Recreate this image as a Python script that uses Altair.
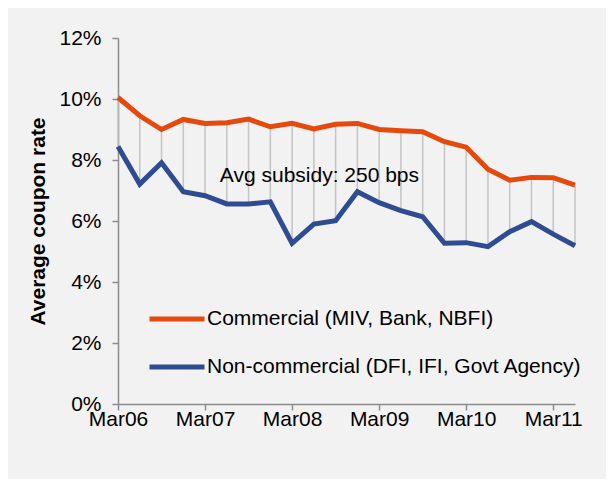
import altair as alt
import pandas as pd

quarters = ["Mar06", "Jun06", "Sep06", "Dec06",
            "Mar07", "Jun07", "Sep07", "Dec07",
            "Mar08", "Jun08", "Sep08", "Dec08",
            "Mar09", "Jun09", "Sep09", "Dec09",
            "Mar10", "Jun10", "Sep10", "Dec10",
            "Mar11", "Jun11"]
commercial = [10.05, 9.45, 9.0, 9.33, 9.2, 9.22, 9.34, 9.09, 9.2, 9.02, 9.17,
              9.2, 9.0, 8.96, 8.93, 8.6, 8.42, 7.7, 7.34, 7.43, 7.42, 7.18]
noncommercial = [8.44, 7.21, 7.91, 6.96, 6.83, 6.56, 6.56, 6.63, 5.27, 5.9, 6.01,
                 6.96, 6.6, 6.34, 6.14, 5.27, 5.29, 5.16, 5.65, 5.98, 5.57, 5.19]
series_names = ["Commercial (MIV, Bank, NBFI)",
                "Non-commercial (DFI, IFI, Govt Agency)"]
series_colors = ["#E5490C", "#2E4C8F"]
year_ticks = ["Mar06", "Mar07", "Mar08", "Mar09", "Mar10", "Mar11"]
y_ticks = [0, 2, 4, 6, 8, 10, 12]
annotation = "Avg subsidy: 250 bps"

wide = pd.DataFrame({"q": quarters, "c": commercial, "n": noncommercial})
long = pd.concat([
    pd.DataFrame({"q": quarters, "v": commercial, "s": series_names[0]}),
    pd.DataFrame({"q": quarters, "v": noncommercial, "s": series_names[1]}),
])
ann = pd.DataFrame({"q": ["Jun07"], "v": [7.48], "t": [annotation]})

FONT = "Liberation Sans"
FS = 21

x_enc = alt.X("q:N", sort=quarters,
              scale=alt.Scale(type="point", padding=0),
              axis=alt.Axis(title=None, values=year_ticks, labelAngle=0,
                            labelFontSize=FS, labelPadding=-2, tickSize=6,
                            labelFont=FONT, labelColor="#000000",
                            domainColor="#8c8c8c", tickColor="#8c8c8c",
                            domainWidth=1.5, tickWidth=1.5, grid=False))
y_scale = alt.Scale(domain=[0, 12], nice=False, zero=True)

rules = alt.Chart(wide).mark_rule(color="#c4c4c4", strokeWidth=1.5).encode(
    x=x_enc,
    y=alt.Y("n:Q", scale=y_scale,
            axis=alt.Axis(title="Average coupon rate", values=y_ticks,
                          labelExpr="datum.value + '%'", labelFontSize=FS,
                          labelFont=FONT, labelColor="#000000",
                          titleFont=FONT, titleFontSize=FS, titleFontWeight="bold",
                          titleColor="#000000", titlePadding=10,
                          domainColor="#8c8c8c", tickColor="#8c8c8c",
                          domainWidth=1.5, tickWidth=1.5, tickSize=6,
                          labelPadding=11, grid=False)),
    y2="c:Q",
)

lines = alt.Chart(long).mark_line(strokeWidth=5).encode(
    x=alt.X("q:N", sort=quarters),
    y=alt.Y("v:Q", scale=y_scale),
    color=alt.Color("s:N",
                    scale=alt.Scale(domain=series_names, range=series_colors),
                    legend=alt.Legend(title=None, orient="none", legendX=29,
                                      legendY=251, symbolType="stroke",
                                      symbolSize=3025, symbolStrokeWidth=5,
                                      labelFontSize=FS, labelFont=FONT,
                                      labelColor="#000000", labelOffset=0,
                                      rowPadding=8, labelLimit=500)),
    detail="s:N",
)

text = alt.Chart(ann).mark_text(align="left", baseline="middle", dx=-7,
                                fontSize=FS, font=FONT, color="#000000").encode(
    x=alt.X("q:N", sort=quarters),
    y=alt.Y("v:Q", scale=y_scale),
    text="t:N",
)

chart = alt.layer(rules, lines, text).properties(
    width=457, height=366,
    background="#f2f2f2",
    padding={"left": 110, "top": 30, "right": 31, "bottom": 75},
    autosize=alt.AutoSizeParams(type="none"),
).configure_view(stroke=None)

chart.save("out.html", embed_options={"renderer": "svg", "actions": False})
